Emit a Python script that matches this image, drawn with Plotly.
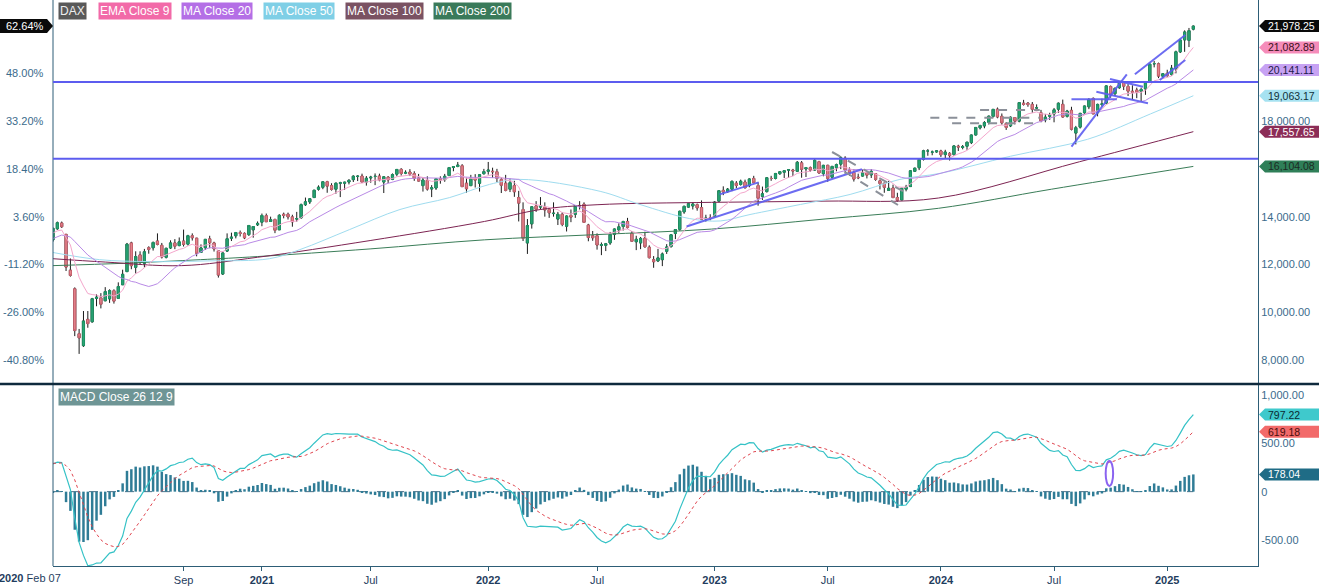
import pandas as pd
import plotly.graph_objects as go

FONT = "Liberation Sans, Arial, sans-serif"

# ---------------- data ----------------
# weekly closes preceding the visible window (seed for EMA / MA20 / MACD)
warmup_closes = [12010, 11999, 12222, 12315, 12413, 12060, 12239, 12011, 11727, 12045,
                 12096, 12340, 12399, 12568, 12323, 12260, 12419, 11872, 11694, 11563,
                 11612, 11939, 12192, 12469, 12468, 12381, 12013, 12512, 12634, 12895,
                 12961, 13229, 13242, 13164, 13236, 13167, 13283, 13319, 13337, 13219,
                 13483, 13526, 13577, 12982]

first_week = "2020-02-07"

opens = [
    # 2020
    13030, 13494, 13735, 13260, 11760, 10980, 9100, 8600, 9700, 9600,
    10580, 10600, 10480, 10560, 10900, 10580, 11150, 11700, 12900, 11880,
    12400, 12050, 12700, 12700, 12980, 12800, 12300, 12690, 12900, 12790,
    12980, 12850, 13200, 13100, 12500, 12700, 13070, 12900, 12570, 11600,
    12560, 13100, 13200, 13330, 13300, 13250, 13450, 13660,
    # 2021
    13770, 14040, 13800, 13880, 13450, 14100, 14100, 13990, 13900, 13950,
    14500, 14620, 14800, 15150, 15230, 15460, 15300, 15150, 15400, 15400,
    15450, 15550, 15680, 15700, 15450, 15620, 15680, 15700, 15450, 15650,
    15560, 15780, 15980, 15820, 15870, 15800, 15620, 15300, 15520, 15160,
    15200, 15590, 15550, 15720, 16060, 16100, 16130, 15400, 15300, 15600,
    15400, 15800,
    # 2022
    15900, 15900, 15880, 15550, 15400, 15150, 15300, 14800, 14300, 12900,
    13700, 14450, 14400, 14400, 14300, 14130, 13900, 14100, 13600, 14050,
    14100, 14470, 14520, 13650, 13200, 13200, 12800, 12800, 12900, 13260,
    13450, 13590, 13800, 13300, 12950, 12900, 13100, 12720, 12200, 12150,
    12200, 12550, 12750, 13300, 13470, 14200, 14400, 14450, 14500, 14380,
    13900, 13950,
    # 2023
    14000, 14650, 15100, 15050, 15150, 15400, 15350, 15450, 15300, 15600,
    15300, 14850, 15050, 15600, 15600, 15800, 15860, 15950, 15950, 15900,
    16250, 16000, 16050, 15950, 16300, 15800, 16150, 15650, 16050, 16200,
    16450, 15950, 15850, 15650, 15700, 15850, 15750, 15800, 15500, 15400,
    15100, 15200, 14800, 14700, 15150, 15260, 15900, 16050, 16400, 16750,
    16700, 16710,
    # 2024
    16750, 16600, 16650, 16600, 16950, 16900, 16950, 17100, 17420, 17720,
    17800, 17950, 18200, 18500, 18200, 17900, 17800, 18150, 18000, 18750,
    18750, 18700, 18550, 18350, 18050, 18200, 18300, 18500, 18700, 18200,
    18450, 17500, 17750, 18350, 18600, 18950, 18350, 18700, 18750, 19450,
    19150, 19400, 19650, 19450, 19250, 19300, 19250, 19350, 19650, 20400,
    20400, 19880,
    # 2025
    20000, 19950, 20200, 20900, 21400, 21380, 21850,
]

highs = [
    13525, 13795, 13795, 13260, 12250, 11040, 9300, 10050, 10050, 10600,
    10750, 10800, 11050, 10960, 10960, 11250, 11780, 12900, 12950, 12550,
    12550, 12650, 12760, 12960, 13300, 12900, 12700, 13010, 13060, 13130,
    13460, 13240, 13300, 13110, 12840, 13060, 13200, 12950, 12570, 12530,
    13300, 13330, 13360, 13420, 13340, 13650, 13600, 13800,
    14130, 14130, 14000, 13920, 14100, 14170, 14170, 14080, 14200, 14550,
    14800, 14780, 15120, 15310, 15470, 15500, 15400, 15430, 15460, 15460,
    15570, 15730, 15730, 15800, 15700, 15710, 15810, 15800, 15700, 15700,
    15810, 15980, 16030, 15940, 15990, 15900, 15790, 15650, 15690, 15320,
    15600, 15690, 15790, 16080, 16100, 16290, 16200, 15630, 15750, 15780,
    15770, 16000,
    16290, 16050, 16000, 15650, 15750, 15600, 15500, 15080, 14600, 13900,
    14430, 14650, 14820, 14600, 14350, 14600, 14200, 14180, 14050, 14300,
    14480, 14650, 14600, 13700, 13400, 13300, 12920, 12900, 13360, 13500,
    13720, 13830, 13950, 13400, 13200, 13150, 13370, 12800, 12350, 12650,
    12500, 12850, 13270, 13470, 14250, 14460, 14560, 14600, 14550, 14680,
    14080, 14100,
    14650, 15100, 15270, 15200, 15520, 15490, 15550, 15550, 15600, 15710,
    15430, 15260, 15660, 15710, 15830, 15900, 15930, 15990, 16000, 16330,
    16330, 16080, 16100, 16430, 16340, 16170, 16170, 16120, 16220, 16530,
    16530, 16060, 15990, 15800, 15990, 15870, 15990, 15820, 15550, 15420,
    15500, 15340, 15000, 15200, 15330, 15950, 16050, 16420, 16800, 16830,
    16770, 16790,
    16800, 16800, 16700, 16980, 17010, 17000, 17130, 17430, 17740, 17850,
    18000, 18230, 18500, 18570, 18320, 17960, 18200, 18170, 18790, 18890,
    18800, 18800, 18700, 18470, 18300, 18350, 18550, 18780, 18900, 18470,
    18600, 17800, 18350, 18640, 18960, 18990, 18730, 18940, 19490, 19490,
    19400, 19680, 19680, 19550, 19500, 19400, 19400, 19650, 20400, 20520,
    20450, 20000,
    20150, 20350, 20950, 21450, 21800, 21900, 22000,
]

lows = [
    12953, 13450, 13530, 11725, 11490, 9000, 8255, 8550, 9350, 9560,
    10250, 10160, 10460, 10390, 10360, 10570, 11140, 11690, 11800, 11620,
    11990, 11870, 12450, 12580, 12800, 12250, 12250, 12650, 12640, 12760,
    12750, 12790, 13000, 12340, 12480, 12610, 12680, 12540, 11450, 11560,
    12520, 12980, 13090, 13170, 13060, 13190, 13120, 13610,
    13600, 13780, 13780, 13310, 13450, 13930, 13880, 13580, 13790, 13920,
    14450, 14530, 14780, 15090, 15150, 15000, 15090, 14960, 14820, 15120,
    15350, 15450, 15490, 15420, 15300, 15420, 15320, 15480, 14990, 15410,
    15530, 15690, 15720, 15780, 15700, 15500, 15480, 15050, 15090, 14820,
    15120, 15380, 15460, 15720, 15900, 16070, 15250, 15000, 15280, 15220,
    15050, 15760,
    15760, 15620, 15450, 14990, 15060, 15030, 14830, 13800, 12980, 12440,
    13500, 14200, 14300, 14000, 13950, 14000, 13650, 13600, 13380, 13770,
    13950, 14300, 13750, 12970, 12990, 12620, 12390, 12560, 12820, 13030,
    13320, 13420, 13500, 12950, 12600, 12640, 12700, 12250, 11860, 12100,
    11930, 12440, 12700, 13060, 13410, 14120, 14380, 14300, 14250, 13870,
    13790, 13850,
    14000, 14600, 14900, 15000, 15070, 15200, 15300, 15180, 15230, 15400,
    14460, 14700, 15010, 15500, 15560, 15750, 15620, 15630, 15700, 15870,
    15630, 15660, 15880, 15930, 15800, 15690, 15460, 15600, 15900, 15990,
    15800, 15710, 15470, 15570, 15680, 15600, 15620, 15500, 15140, 15000,
    15080, 14780, 14630, 14690, 15060, 15250, 15880, 15950, 16350, 16550,
    16570, 16680,
    16500, 16450, 16350, 16550, 16750, 16820, 16800, 17040, 17400, 17650,
    17700, 17860, 18150, 18120, 17850, 17630, 17750, 17860, 17950, 18650,
    18600, 18350, 18450, 17950, 17950, 18050, 17950, 18350, 18150, 18150,
    17610, 17025, 17690, 18310, 18500, 18300, 18200, 18600, 18700, 18980,
    19050, 19350, 19300, 19050, 18900, 18960, 18830, 19100, 19600, 20250,
    19800, 19800,
    19850, 19900, 20000, 20850, 20900, 21100, 21800,
]

closes = [
    13513.81, 13745, 13579, 11890, 11542, 9232, 8929, 9633, 9525, 10565,
    10626, 10336, 10861, 10904, 10465, 11074, 11587, 12848, 11949, 12331,
    12089, 12528, 12633, 12920, 12838, 12313, 12675, 12901, 12765, 12945,
    12842, 13203, 13116, 12469, 12689, 13051, 12909, 12646, 11556, 12480,
    13077, 13137, 13335, 13298, 13114, 13631, 13587, 13719,
    14050, 13788, 13874, 13433, 14057, 14050, 13993, 13786, 13921, 14502,
    14621, 14749, 15107, 15234, 15460, 15280, 15136, 15400, 15417, 15438,
    15520, 15693, 15693, 15448, 15608, 15650, 15688, 15540, 15669, 15544,
    15761, 15977, 15808, 15852, 15781, 15610, 15490, 15532, 15156, 15207,
    15587, 15543, 15689, 16054, 16094, 16160, 15257, 15170, 15623, 15532,
    15756, 15885,
    15948, 15883, 15603, 15318, 15100, 15425, 15042, 14567, 13094, 13628,
    14413, 14306, 14446, 14284, 14164, 14142, 14098, 13674, 14027, 13982,
    14462, 14460, 13762, 13127, 13118, 12813, 12833, 12865, 13254, 13484,
    13574, 13795, 13544, 12971, 13051, 13088, 12741, 12284, 12114, 12273,
    12438, 12731, 13243, 13460, 14225, 14432, 14541, 14529, 14370, 13893,
    13941, 13924,
    14610, 15087, 15034, 15150, 15476, 15308, 15482, 15210, 15578, 15428,
    14768, 14957, 15629, 15598, 15808, 15882, 15922, 15961, 15914, 16275,
    15983, 16051, 15950, 16358, 15830, 16148, 15603, 16105, 16177, 16469,
    15952, 15832, 15574, 15632, 15840, 15740, 15894, 15558, 15387, 15229,
    15187, 14798, 14688, 15189, 15234, 15919, 16029, 16398, 16759, 16751,
    16706, 16752,
    16594, 16705, 16556, 16961, 16918, 16927, 17117, 17419, 17735, 17815,
    17937, 18206, 18492, 18175, 17930, 17737, 18161, 18001, 18773, 18704,
    18693, 18498, 18557, 18002, 18164, 18235, 18475, 18748, 18172, 18418,
    17661, 17723, 18322, 18633, 18907, 18302, 18699, 18720, 19474, 19121,
    19374, 19657, 19464, 19255, 19216, 19211, 19323, 19626, 20385, 20406,
    19885, 19984,
    19906, 20215, 20903, 21395, 21732, 21787, 21978.25,
]

# slow moving averages (checkpoints)
ma50_dates = ["2020-02-07", "2020-04-22", "2020-07-11", "2020-10-15", "2021-01-20", "2021-03-10",
              "2021-05-29", "2021-08-18", "2021-11-06", "2022-01-09", "2022-02-27", "2022-07-06",
              "2022-09-08", "2022-11-27", "2023-01-15", "2023-03-04", "2023-05-24", "2023-08-12",
              "2023-10-31", "2024-01-04", "2024-04-26", "2024-08-28", "2024-12-07", "2025-02-14"]
ma50_vals = [12500, 12200, 12120, 12150, 12240, 12620, 13460, 14300, 14800, 15350, 15560, 15060,
             14510, 13920, 13820, 14090, 14510, 14930, 15560, 15815, 16530, 17240, 18300, 19063]

ma100_dates = ["2020-02-07", "2020-05-01", "2020-09-01", "2021-01-01", "2021-07-01", "2022-01-01",
               "2022-04-01", "2022-07-01", "2023-01-01", "2023-07-01", "2024-01-01", "2024-08-15",
               "2025-02-14"]
ma100_vals = [12240, 12100, 11950, 12300, 13000, 13800, 14300, 14500, 14600, 14650, 14780, 16300, 17558]

ma200_dates = ["2020-02-07", "2020-06-01", "2020-10-01", "2021-01-01", "2021-07-01", "2022-01-01",
               "2022-07-01", "2023-01-01", "2023-07-01", "2024-01-01", "2024-07-01", "2025-02-14"]
ma200_vals = [11950, 12050, 12200, 12330, 12650, 13030, 13250, 13480, 13900, 14350, 15150, 16104]

# last values shown in the right-hand labels
price_labels = [(21978.25, "21,978.25", "#0a0a0a", "#ffffff"),
                (21082.89, "21,082.89", "#f58cba", "#3a1020"),
                (20141.11, "20,141.11", "#c7a2f3", "#1e1a4a"),
                (19063.17, "19,063.17", "#a6e2f1", "#10303a"),
                (17557.65, "17,557.65", "#8c2d57", "#ffffff"),
                (16104.08, "16,104.08", "#2f7f58", "#1c2b24")]
macd_labels = [(797.22, "797.22", "#3fc9cc", "#0b2a33"),
               (619.18, "619.18", "#f26a6a", "#4a0d0d"),
               (178.04, "178.04", "#1f6c86", "#ffffff")]
pct_label = "62.64%"

# user drawings (date, price)
support_levels = [19637, 16426]
blue_trendlines = [("2022-11-22", 13588, "2023-08-31", 15983),
                   ("2023-01-14", 14933, "2023-03-18", 15437),
                   ("2024-08-02", 16929, "2024-10-30", 19960),
                   ("2024-08-02", 18913, "2024-10-14", 18913),
                   ("2024-09-11", 19231, "2024-12-03", 18746),
                   ("2024-10-03", 19763, "2024-11-25", 19440),
                   ("2024-11-12", 19960, "2025-02-01", 21605),
                   ("2024-12-22", 19721, "2025-02-01", 20558)]
gray_dashed = [("2023-07-14", 16707, "2023-11-16", 14907),
               ("2023-08-04", 15870, "2023-10-28", 14488),
               ("2024-03-08", 18465, "2024-06-12", 18465),
               ("2023-12-19", 18143, "2024-06-12", 18143),
               ("2024-01-23", 17908, "2024-06-12", 17908)]
macd_ellipse = ("2024-09-26", 59, "2024-10-08", 318)

x_tick_dates = ["2020-09-04", "2021-01-08", "2021-07-02", "2022-01-07", "2022-07-01",
                "2023-01-06", "2023-07-07", "2024-01-05", "2024-07-05", "2025-01-03"]
x_tick_text = ["Sep", "<b>2021</b>", "Jul", "<b>2022</b>", "Jul", "<b>2023</b>", "Jul",
               "<b>2024</b>", "Jul", "<b>2025</b>"]
price_ticks = [8000, 10000, 12000, 14000, 18000]
pct_ticks_at_price = [8000, 10000, 12000, 14000, 16000, 18000, 20000]
macd_ticks = [-500, 0, 500, 1000]
macd_tick_text = ["-500.00", "0", "500.00", "1,000.00"]

legend_items = [("DAX", "#595959", "#eeeeee", 58), ("EMA Close 9", "#f26aa8", "#ffffff", 98),
                ("MA Close 20", "#b46fe6", "#ffffff", 181), ("MA Close 50", "#7fcfe6", "#ffffff", 263),
                ("MA Close 100", "#7a5262", "#ffffff", 345), ("MA Close 200", "#3a7a5a", "#ffffff", 433)]

assert len(opens) == len(highs) == len(lows) == len(closes)

# ---------------- indicators ----------------
dates = pd.date_range(first_week, periods=len(closes), freq="7D")
warm_dates = pd.date_range(end=dates[0] - pd.Timedelta(days=7), periods=len(warmup_closes), freq="7D")
allc = pd.Series(warmup_closes + closes, index=warm_dates.append(dates), dtype=float)
ema9 = allc.ewm(span=9, adjust=False).mean().loc[dates]
ma20 = allc.rolling(20).mean().loc[dates]
macd_all = allc.ewm(span=12, adjust=False).mean() - allc.ewm(span=26, adjust=False).mean()
signal_all = macd_all.ewm(span=9, adjust=False).mean()
macd = macd_all.loc[dates]
signal = signal_all.loc[dates]
hist = macd - signal

# ---------------- figure ----------------
W, H = 1319, 587
ML, MR, MT, MB = 53, 61, 0, 21
PW, PH = W - ML - MR, H - MT - MB
main_bottom_px, macd_top_px = 383, 385
dom_main = [(PH - main_bottom_px) / PH, 1]
dom_macd = [0, (PH - macd_top_px) / PH]

fig = go.Figure()

def line_trace(x, y, color, yaxis="y", width=1, dash=None, shape="linear"):
    return go.Scatter(x=x, y=y, mode="lines", yaxis=yaxis, hoverinfo="skip", showlegend=False,
                      line=dict(color=color, width=width, dash=dash, shape=shape))

fig.add_trace(line_trace(pd.to_datetime(ma200_dates), ma200_vals, "#3a7d58", shape="spline"))
fig.add_trace(line_trace(pd.to_datetime(ma100_dates), ma100_vals, "#7d2452", shape="spline"))
fig.add_trace(line_trace(pd.to_datetime(ma50_dates), ma50_vals, "#9fdcef", shape="spline"))
fig.add_trace(line_trace(dates, ma20, "#b98ae6"))
fig.add_trace(line_trace(dates, ema9, "#f4a6cc"))

body_hi = [max(o, c) for o, c in zip(opens, closes)]
body_lo = [min(o, c) for o, c in zip(opens, closes)]
fig.add_trace(go.Candlestick(x=dates, open=opens, high=highs, low=lows, close=closes,
                             increasing=dict(line=dict(color="#1b1b1b", width=1), fillcolor="#2aa575"),
                             decreasing=dict(line=dict(color="#1b1b1b", width=1), fillcolor="#e5848d"),
                             whiskerwidth=0, showlegend=False, hoverinfo="skip"))
fig.add_trace(go.Candlestick(x=dates, open=opens, high=body_hi, low=body_lo, close=closes,
                             increasing=dict(line=dict(color="#1e9666", width=1), fillcolor="#2aa575"),
                             decreasing=dict(line=dict(color="#cc6470", width=1), fillcolor="#e5848d"),
                             whiskerwidth=0, showlegend=False, hoverinfo="skip"))

fig.add_trace(go.Bar(x=dates, y=hist, yaxis="y2", width=4 * 86400000, marker=dict(color="#2f7c96", line=dict(width=0)),
                     showlegend=False, hoverinfo="skip"))
fig.add_trace(line_trace(dates, macd, "#35c2c6", yaxis="y2", width=1.2))
fig.add_trace(line_trace(dates, signal, "#e0454f", yaxis="y2", width=1, dash="dot"))

axis_col = "#2d5d76"
fig.update_layout(
    width=W, height=H, margin=dict(l=ML, r=MR, t=MT, b=MB),
    paper_bgcolor="white", plot_bgcolor="white", showlegend=False,
    font=dict(family=FONT, size=11, color="#2a4a68"),
    boxgap=0.3,
    xaxis=dict(domain=[0, 1], anchor="y2", range=["2020-02-07", "2025-05-29"], type="date",
               showgrid=False, zeroline=False, showline=True, linecolor=axis_col, linewidth=1,
               ticks="outside", ticklen=4, tickcolor=axis_col, tickvals=pd.to_datetime(x_tick_dates),
               ticktext=x_tick_text, tickfont=dict(size=11, color="#1f3d5e"),
               rangeslider=dict(visible=False)),
    yaxis=dict(domain=dom_main, anchor="x", side="right", range=[7037, 23070], showgrid=False,
               zeroline=False, showline=True, linecolor=axis_col, linewidth=1, ticks="",
               tickvals=price_ticks, tickformat=",.2f", tickfont=dict(size=11, color="#3b6b8c")),
    yaxis2=dict(domain=dom_macd, anchor="x", side="right", range=[-769, 1103], showgrid=False,
                zeroline=False, showline=True, linecolor=axis_col, linewidth=1, ticks="",
                tickvals=macd_ticks, ticktext=macd_tick_text, tickfont=dict(size=11, color="#3b6b8c")),
)

shapes = []
# left axis line
shapes.append(dict(type="line", xref="paper", yref="paper", x0=0, x1=0, y0=0, y1=1,
                   line=dict(color=axis_col, width=1)))
# separator between panels
sep_y = (PH - 384) / PH
shapes.append(dict(type="line", xref="paper", yref="paper", x0=-ML / PW, x1=(W - ML) / PW, y0=sep_y, y1=sep_y,
                   line=dict(color="#0f2a3d", width=2.5), layer="above"))
# MACD zero line
shapes.append(dict(type="line", xref="x", yref="y2", x0=dates[0], x1=dates[-1], y0=0, y1=0,
                   line=dict(color="#4d6f86", width=1, dash="dash"), layer="below"))
for lvl in support_levels:
    shapes.append(dict(type="line", xref="paper", yref="y", x0=0, x1=1, y0=lvl, y1=lvl,
                       line=dict(color="#5c5cef", width=2)))
for d0, p0, d1, p1 in blue_trendlines:
    shapes.append(dict(type="line", xref="x", yref="y", x0=d0, x1=d1, y0=p0, y1=p1,
                       line=dict(color="rgba(92,92,239,0.9)", width=2)))
for d0, p0, d1, p1 in gray_dashed:
    shapes.append(dict(type="line", xref="x", yref="y", x0=d0, x1=d1, y0=p0, y1=p1,
                       line=dict(color="#8b9099", width=2, dash="dash")))
e0, v0, e1, v1 = macd_ellipse
shapes.append(dict(type="circle", xref="x", yref="y2", x0=e0, x1=e1, y0=v0, y1=v1,
                   line=dict(color="#8a63f0", width=2)))

annotations = []

def right_label(val, text, bg, fg, yref):
    shapes.append(dict(type="path", xref="paper", yref=yref, xsizemode="pixel", ysizemode="pixel",
                       xanchor=1, yanchor=val, path="M 1,0 L 7,6 L 62,6 L 62,-6 L 7,-6 Z",
                       fillcolor=bg, line=dict(width=0), layer="above"))
    annotations.append(dict(xref="paper", yref=yref, x=1, y=val, xanchor="left", yanchor="middle",
                            xshift=8, text=text, showarrow=False, font=dict(size=10.5, color=fg, family=FONT)))

for val, text, bg, fg in price_labels:
    right_label(val, text, bg, fg, "y")
for val, text, bg, fg in macd_labels:
    right_label(val, text, bg, fg, "y2")

# left percent axis (relative to first close)
base = closes[0]
for p in pct_ticks_at_price:
    annotations.append(dict(xref="paper", yref="y", x=0, y=p, xanchor="right", yanchor="middle", xshift=-7,
                            text=f"{(p / base - 1) * 100:.2f}%", showarrow=False,
                            font=dict(size=11, color="#3b6b8c", family=FONT)))
last_close = closes[-1]
shapes.append(dict(type="path", xref="paper", yref="y", xsizemode="pixel", ysizemode="pixel",
                   xanchor=0, yanchor=last_close, path="M -54,7 L -6,7 L 0,0 L -6,-7 L -54,-7 Z",
                   fillcolor="#0a0a0a", line=dict(width=0), layer="above"))
annotations.append(dict(xref="paper", yref="y", x=0, y=last_close, xanchor="right", yanchor="middle", xshift=-7,
                        text=pct_label, showarrow=False, font=dict(size=11, color="#ffffff", family=FONT)))

# legend boxes
for text, bg, fg, px in legend_items:
    annotations.append(dict(xref="paper", yref="paper", x=(px - ML) / PW, y=(PH - 2) / PH, xanchor="left",
                            yanchor="top", text=text, showarrow=False, bgcolor=bg, borderpad=1,
                            font=dict(size=12, color=fg, family=FONT)))
annotations.append(dict(xref="paper", yref="paper", x=(58 - ML) / PW, y=(PH - 388) / PH, xanchor="left",
                        yanchor="top", text="MACD Close 26 12 9", showarrow=False, bgcolor="#6e9595", borderpad=1,
                        font=dict(size=12, color="#ffffff", family=FONT)))
# first date label
annotations.append(dict(xref="paper", yref="paper", x=0, y=0, xanchor="center", yanchor="top", xshift=-23,
                        yshift=-4, text="<b>2020</b> Feb 07", showarrow=False,
                        font=dict(size=11, color="#1f3d5e", family=FONT)))

fig.update_layout(shapes=shapes, annotations=annotations)
fig.write_html("out.html")
